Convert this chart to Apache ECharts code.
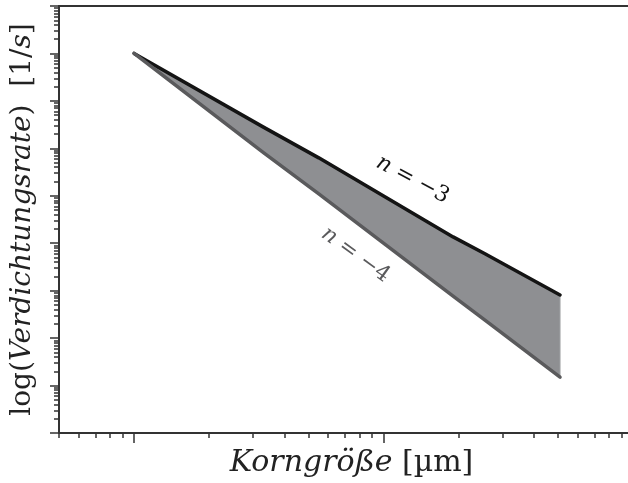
<!DOCTYPE html>
<html><head><meta charset="utf-8">
<script src="https://cdn.jsdelivr.net/npm/echarts@6/dist/echarts.min.js"></script>
<style>html,body{margin:0;padding:0;background:#fff}#c{width:628px;height:483px}</style>
</head><body><div id="c"></div>
<script>
// ---- data ----
const grainSize = [1, 3.3, 5.5, 19, 25.5, 51];              // Korngröße [µm]
const rateN3    = [1e8, 2.8e6, 6.3e5, 1.36e4, 6.0e3, 8.1e2]; // n = -3
const rateN4    = [1e8, 8.1e5, 1.1e5, 7.7e2, 2.4e2, 15];     // n = -4
const xRange = [0.5, 95.5];
const yRange = [1, 1e9];
const xDecades = [-1, 0, 1];
const yDecades = [0, 1, 2, 3, 4, 5, 6, 7, 8];
const minorMult = [2, 3, 4, 5, 6, 7, 8, 9];
const xMajor = [0, 1];
const yMajor = [0, 1, 2, 3, 4, 5, 6, 7, 8, 9];
const labelN3 = {text: '{i|n} = −3', at: [13.08, 2.18e5]};
const labelN4 = {text: '{i|n} = −4', at: [7.72, 5.69e3]};

const lg = Math.log10;
const minorTicks = (dec, lo, hi) => {
  const out = [];
  dec.forEach(d => minorMult.forEach(m => { const v = d + lg(m); if (v >= lo && v <= hi) out.push(v); }));
  return out;
};
const xLo = lg(xRange[0]), xHi = lg(xRange[1]);
const yLo = lg(yRange[0]), yHi = lg(yRange[1]);

const serif = 'DejaVu Serif';
const axisCol = '#333';
const tickAxis = (extra) => Object.assign({
  type: 'value', axisLine: {show: false, onZero: false}, axisLabel: {show: false},
  splitLine: {show: false}
}, extra);

const labelRich = (col) => ({
  i: {fontFamily: serif, fontStyle: 'italic', fontSize: 22, color: col},
});

const option = {
  animation: false,
  backgroundColor: '#fff',
  grid: {left: 59, top: 6, right: 0, bottom: 50, containLabel: false, outerBoundsMode: 'none'},
  xAxis: [
    {type: 'log', logBase: 10, min: xRange[0], max: xRange[1], position: 'bottom',
     axisLine: {show: true, onZero: false, lineStyle: {color: axisCol, width: 2}},
     axisTick: {show: false}, axisLabel: {show: false}, splitLine: {show: false}, minorTick: {show: false},
     name: '{i|Korngröße}{r| [µm]}', nameLocation: 'middle', nameGap: 15,
     nameTextStyle: {verticalAlign: 'top', padding: [0, 0, 0, 16], rich: {
       i: {fontFamily: serif, fontStyle: 'italic', fontSize: 30, color: '#222'},
       r: {fontFamily: serif, fontSize: 30, color: '#222'}}}},
    tickAxis({min: xLo, max: xHi, position: 'bottom',
      axisTick: {show: true, customValues: minorTicks(xDecades, xLo, xHi), length: 5, lineStyle: {color: axisCol, width: 1.5}}}),
    tickAxis({min: xLo, max: xHi, position: 'bottom',
      axisTick: {show: true, customValues: xMajor, length: 10, lineStyle: {color: axisCol, width: 1.5}}}),
    tickAxis({min: xLo, max: xHi, position: 'top',
      axisLine: {show: true, onZero: false, lineStyle: {color: axisCol, width: 2}}, axisTick: {show: false}})
  ],
  yAxis: [
    {type: 'log', logBase: 10, min: yRange[0], max: yRange[1], position: 'left',
     axisLine: {show: true, onZero: false, lineStyle: {color: axisCol, width: 2}},
     axisTick: {show: false}, axisLabel: {show: false}, splitLine: {show: false}, minorTick: {show: false},
     name: '{r|log(}{i|Verdichtungsrate}{r|)  [1/}{i|s}{r|]}', nameLocation: 'middle', nameRotate: 90, nameGap: 22,
     nameTextStyle: {rich: {
       i: {fontFamily: serif, fontStyle: 'italic', fontSize: 28, color: '#222'},
       r: {fontFamily: serif, fontSize: 28, color: '#222'}}}},
    tickAxis({min: yLo, max: yHi, position: 'left',
      axisTick: {show: true, customValues: minorTicks(yDecades, yLo, yHi), length: 5, lineStyle: {color: axisCol, width: 1.5}}}),
    tickAxis({min: yLo, max: yHi, position: 'left',
      axisTick: {show: true, customValues: yMajor, length: 9, lineStyle: {color: axisCol, width: 1.5}}})
  ],
  series: [
    {type: 'custom', name: 'band', silent: true, z: 1,
     data: [[grainSize[0], rateN3[0]]],
     renderItem: (params, api) => {
       const upper = grainSize.map((x, i) => api.coord([x, rateN3[i]]));
       const low = grainSize.map((x, i) => api.coord([x, rateN4[i]])).reverse();
       return {type: 'polygon', shape: {points: upper.concat(low)},
               style: {fill: '#8e8f92', stroke: '#a2a3a6', lineWidth: 1}};
     }},
    {type: 'line', name: 'n = -3', data: grainSize.map((x, i) => [x, rateN3[i]]), symbol: 'none', z: 3,
     lineStyle: {color: '#141414', width: 3.5, cap: 'round', join: 'round'},
     markPoint: {symbol: 'circle', symbolSize: 0, silent: true,
       data: [{coord: labelN3.at}],
       label: {show: true, position: 'inside', formatter: labelN3.text, rotate: -28,
         fontFamily: serif, fontSize: 22, color: '#141414', rich: labelRich('#141414')}}},
    {type: 'line', name: 'n = -4', data: grainSize.map((x, i) => [x, rateN4[i]]), symbol: 'none', z: 4,
     lineStyle: {color: '#5a5a5c', width: 3.5, cap: 'round', join: 'round'},
     markPoint: {symbol: 'circle', symbolSize: 0, silent: true,
       data: [{coord: labelN4.at}],
       label: {show: true, position: 'inside', formatter: labelN4.text, rotate: -36,
         fontFamily: serif, fontSize: 22, color: '#5a5a5c', rich: labelRich('#5a5a5c')}}}
  ]
};
const chart = echarts.init(document.getElementById('c'), null, {renderer: 'canvas'});
chart.setOption(option);
</script></body></html>
